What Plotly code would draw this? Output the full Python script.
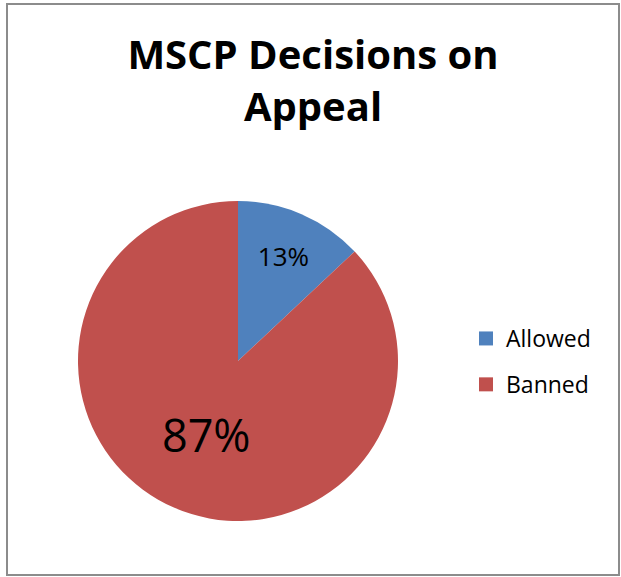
import plotly.graph_objects as go

W, H = 621, 577

categories = ["Allowed", "Banned"]
values = [13, 87]
colors = ["#4F81BD", "#C0504D"]
label_sizes = [26, 45]

fig = go.Figure()

fig.add_trace(
    go.Pie(
        labels=categories,
        values=values,
        sort=False,
        direction="clockwise",
        rotation=0,
        marker=dict(colors=colors, line=dict(width=0)),
        texttemplate="%{percent:.0%}",
        textposition="inside",
        insidetextorientation="horizontal",
        textfont=dict(size=label_sizes, color="black", family="Open Sans"),
        domain=dict(x=[78 / W, 398 / W], y=[1 - 521 / H, 1 - 201 / H]),
        hoverinfo="label+percent",
        showlegend=False,
    )
)

# legend entries as separate groups so the row gap can match the reference
for name, color in zip(categories, colors):
    fig.add_trace(
        go.Scatter(
            x=[None], y=[None], mode="markers", name=name,
            legendgroup=name,
            marker=dict(symbol="square", size=14, color=color),
        )
    )

# outer chart border
fig.add_shape(
    type="rect", xref="paper", yref="paper",
    x0=7 / W, x1=619 / W, y0=1 - 575 / H, y1=1 - 4 / H,
    line=dict(color="#8c8c8c", width=2),
)

fig.update_layout(
    width=W,
    height=H,
    margin=dict(l=0, r=0, t=0, b=0),
    paper_bgcolor="white",
    plot_bgcolor="white",
    xaxis=dict(visible=False),
    yaxis=dict(visible=False),
    title=dict(
        text="<b>MSCP Decisions on<br>Appeal</b>",
        x=313 / W, xanchor="center",
        y=1 - 69 / H, yanchor="top",
        font=dict(family="Open Sans", size=40, color="black"),
    ),
    legend=dict(
        x=466 / W, xanchor="left",
        y=1 - 317 / H, yanchor="top",
        font=dict(family="Open Sans", size=23, color="black"),
        tracegroupgap=13,
        bgcolor="rgba(0,0,0,0)",
    ),
    showlegend=True,
)

fig.write_html(
    "out.html",
    config={"displayModeBar": False},
    post_script="document.body.style.margin='0';",
)
